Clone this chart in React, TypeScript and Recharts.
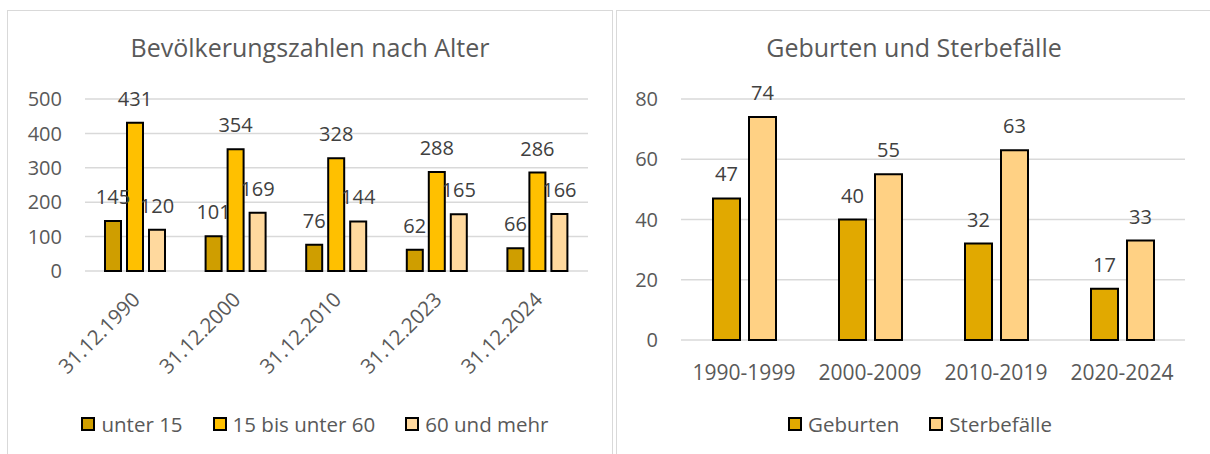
import React from 'react';
import { BarChart, Bar, XAxis, YAxis, CartesianGrid, LabelList } from 'recharts';

// ---- Data: Bevölkerungszahlen nach Alter ----
const ageCategories = ['31.12.1990', '31.12.2000', '31.12.2010', '31.12.2023', '31.12.2024'];
const under15 = [145, 101, 76, 62, 66];
const age15to60 = [431, 354, 328, 288, 286];
const age60plus = [120, 169, 144, 165, 166];
const ageTicks = [0, 100, 200, 300, 400, 500];

// ---- Data: Geburten und Sterbefälle ----
const periodCategories = ['1990-1999', '2000-2009', '2010-2019', '2020-2024'];
const births = [47, 40, 32, 17];
const deaths = [74, 55, 63, 33];
const periodTicks = [0, 20, 40, 60, 80];

const FONT = "'Open Sans', sans-serif";
const TICK_COLOR = '#595959';
const LABEL_COLOR = '#404040';
const GRID_COLOR = '#D9D9D9';

const ageSeries = [
  { key: 'under15', name: 'unter 15', color: '#CF9E00', values: under15 },
  { key: 'age15to60', name: '15 bis unter 60', color: '#FFC000', values: age15to60 },
  { key: 'age60plus', name: '60 und mehr', color: '#FFD99E', values: age60plus },
];
const periodSeries = [
  { key: 'births', name: 'Geburten', color: '#E1A900', values: births },
  { key: 'deaths', name: 'Sterbefälle', color: '#FFD184', values: deaths },
];

const ageData = ageCategories.map((c, i) => {
  const row: Record<string, string | number> = { category: c };
  ageSeries.forEach((s) => (row[s.key] = s.values[i]));
  return row;
});
const periodData = periodCategories.map((c, i) => {
  const row: Record<string, string | number> = { category: c };
  periodSeries.forEach((s) => (row[s.key] = s.values[i]));
  return row;
});

const RotatedTick = (props: any) => {
  const { x, y, payload } = props;
  const px = x + 6;
  const py = y + 30;
  return (
    <text
      x={px}
      y={py}
      transform={`rotate(-45, ${px}, ${py})`}
      textAnchor="end"
      fill={TICK_COLOR}
      fontSize={20.5}
      fontFamily={FONT}
    >
      {payload.value}
    </text>
  );
};

const HtmlLegend = ({ items, center, top }: any) => (
  <div
    style={{
      position: 'absolute',
      left: center - 300,
      width: 600,
      top,
      display: 'flex',
      justifyContent: 'center',
      alignItems: 'center',
      fontFamily: FONT,
      fontSize: 20.5,
      color: TICK_COLOR,
      lineHeight: '28px',
      whiteSpace: 'nowrap',
    }}
  >
    {items.map((s: any, i: number) => (
      <div key={s.key} style={{ display: 'flex', alignItems: 'center', marginLeft: i === 0 ? 0 : 30 }}>
        <div
          style={{
            width: 14,
            height: 14,
            boxSizing: 'border-box',
            border: '2px solid #000',
            background: s.color,
            marginRight: 6,
          }}
        />
        <span>{s.name}</span>
      </div>
    ))}
  </div>
);

const Title = ({ text, left, width }: any) => (
  <div
    style={{
      position: 'absolute',
      left,
      width,
      top: 30,
      textAlign: 'center',
      fontFamily: FONT,
      fontSize: 25,
      lineHeight: '34px',
      color: TICK_COLOR,
    }}
  >
    {text}
  </div>
);

export default function App() {
  return (
    <div
      style={{
        position: 'absolute',
        left: 0,
        top: 0,
        width: 1210,
        height: 454,
        background: '#fff',
        overflow: 'hidden',
      }}
    >
      {/* panel borders */}
      <div
        style={{
          position: 'absolute',
          left: 7,
          top: 10,
          width: 606,
          height: 460,
          border: `1px solid ${GRID_COLOR}`,
          boxSizing: 'border-box',
        }}
      />
      <div
        style={{
          position: 'absolute',
          left: 616,
          top: 10,
          width: 620,
          height: 460,
          border: `1px solid ${GRID_COLOR}`,
          boxSizing: 'border-box',
        }}
      />

      <Title text="Bevölkerungszahlen nach Alter" left={7} width={606} />
      <Title text="Geburten und Sterbefälle" left={617} width={594} />

      <div style={{ position: 'absolute', left: 0, top: 0 }}>
        <BarChart
          width={613}
          height={454}
          data={ageData}
          margin={{ top: 99, right: 25, bottom: 0, left: 0 }}
          barSize={16}
          barGap={6}
        >
          <CartesianGrid vertical={false} stroke={GRID_COLOR} strokeWidth={1.5} />
          <XAxis
            dataKey="category"
            axisLine={false}
            tickLine={false}
            interval={0}
            height={183}
            tickSize={0}
            tickMargin={0}
            tick={<RotatedTick />}
          />
          <YAxis
            width={85}
            domain={[0, 500]}
            ticks={ageTicks}
            axisLine={false}
            tickLine={false}
            tickSize={0}
            tickMargin={23}
            tick={{ fill: TICK_COLOR, fontSize: 20, fontFamily: FONT }}
          />
          {ageSeries.map((s) => (
            <Bar
              key={s.key}
              dataKey={s.key}
              name={s.name}
              fill={s.color}
              stroke="#000"
              strokeWidth={2}
              isAnimationActive={false}
            >
              <LabelList
                dataKey={s.key}
                position="top"
                offset={17}
                fill={LABEL_COLOR}
                fontSize={20}
                fontFamily={FONT}
              />
            </Bar>
          ))}
        </BarChart>
      </div>

      <div style={{ position: 'absolute', left: 617, top: 0 }}>
        <BarChart
          width={593}
          height={454}
          data={periodData}
          margin={{ top: 99, right: 25, bottom: 0, left: 0 }}
          barSize={27}
          barGap={9}
        >
          <CartesianGrid vertical={false} stroke={GRID_COLOR} strokeWidth={1.5} />
          <XAxis
            dataKey="category"
            axisLine={false}
            tickLine={false}
            interval={0}
            height={114}
            tickSize={0}
            tickMargin={25}
            tick={{ fill: TICK_COLOR, fontSize: 21, fontFamily: FONT }}
          />
          <YAxis
            width={64}
            domain={[0, 80]}
            ticks={periodTicks}
            axisLine={false}
            tickLine={false}
            tickSize={0}
            tickMargin={23}
            tick={{ fill: TICK_COLOR, fontSize: 20, fontFamily: FONT }}
          />
          {periodSeries.map((s) => (
            <Bar
              key={s.key}
              dataKey={s.key}
              name={s.name}
              fill={s.color}
              stroke="#000"
              strokeWidth={2}
              isAnimationActive={false}
            >
              <LabelList
                dataKey={s.key}
                position="top"
                offset={17}
                fill={LABEL_COLOR}
                fontSize={20}
                fontFamily={FONT}
              />
            </Bar>
          ))}
        </BarChart>
      </div>

      <HtmlLegend items={ageSeries} center={315} top={410} />
      <HtmlLegend items={periodSeries} center={920} top={410} />
    </div>
  );
}
